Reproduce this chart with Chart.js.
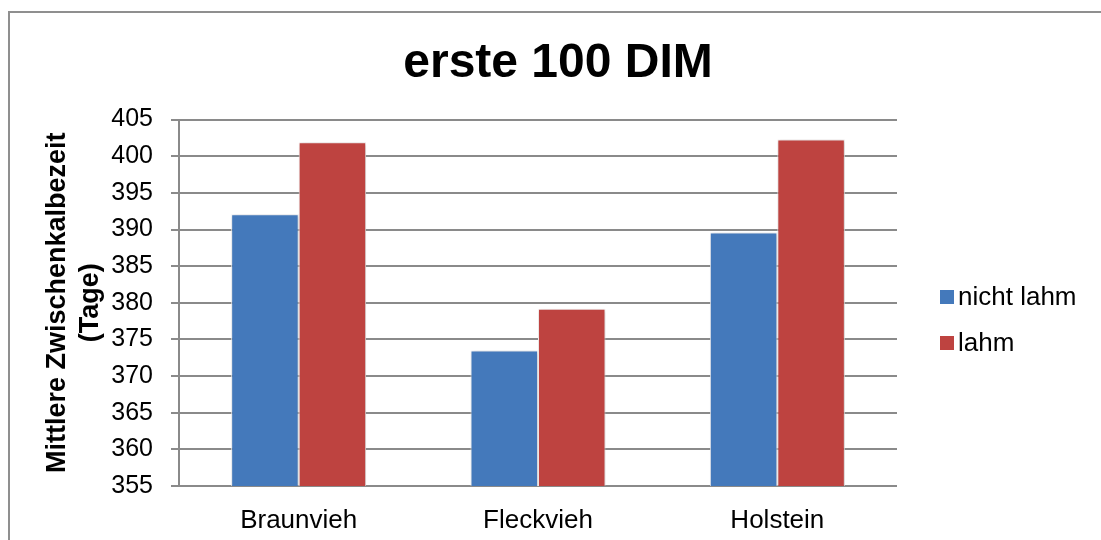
<!DOCTYPE html>
<html>
<head>
<meta charset="utf-8">
<script src="https://cdn.jsdelivr.net/npm/chart.js@4"></script>
<style>
  html, body { margin: 0; padding: 0; background: #ffffff; }
  #wrap { width: 1101px; height: 540px; }
</style>
</head>
<body>
<div id="wrap"><canvas id="c" width="1101" height="540"></canvas></div>
<script>
// Mittlere Zwischenkalbezeit (Tage) je Rasse, erste 100 DIM
const categories = ['Braunvieh', 'Fleckvieh', 'Holstein'];
const seriesNames = ['nicht lahm', 'lahm'];
const nichtLahm = [392.1, 373.5, 389.6];
const lahm = [401.9, 379.2, 402.3];
const yTicks = [355, 360, 365, 370, 375, 380, 385, 390, 395, 400, 405];

const FONT = "'Liberation Sans', Arial, sans-serif";
const GRID = '#8a8a8a';

// Rahmen links und oben um die Grafik
const framePlugin = {
  id: 'frame',
  beforeDraw(chart) {
    const ctx = chart.ctx;
    ctx.save();
    ctx.strokeStyle = '#8f8f8f';
    ctx.lineWidth = 2;
    ctx.beginPath();
    ctx.moveTo(9, chart.height);
    ctx.lineTo(9, 12);
    ctx.lineTo(chart.width, 12);
    ctx.stroke();
    ctx.restore();
  }
};

// leichter Schatten hinter den Balken
const shadowPlugin = {
  id: 'barShadow',
  beforeDatasetsDraw(chart) {
    const ctx = chart.ctx;
    ctx.save();
    ctx.shadowColor = 'rgba(0,0,0,0.22)';
    ctx.shadowBlur = 4;
    ctx.shadowOffsetX = 1;
    ctx.shadowOffsetY = 1;
  },
  afterDatasetsDraw(chart) {
    chart.ctx.restore();
  }
};

// Legende im freien Bereich rechts neben dem Diagramm
const sideLegend = {
  id: 'sideLegend',
  afterDraw(chart) {
    const ctx = chart.ctx;
    const area = chart.chartArea;
    const x = area.right + 43;
    const y0 = 297;
    const step = 46;
    ctx.save();
    ctx.font = '26px ' + FONT;
    ctx.textBaseline = 'middle';
    ctx.textAlign = 'left';
    chart.data.datasets.forEach((ds, i) => {
      const y = y0 + i * step;
      ctx.fillStyle = ds.backgroundColor;
      ctx.fillRect(x, y - 7, 14, 14);
      ctx.fillStyle = '#000000';
      ctx.fillText(ds.label, x + 18, y + 1);
    });
    ctx.restore();
  }
};

new Chart(document.getElementById('c'), {
  type: 'bar',
  data: {
    labels: categories,
    datasets: [
      {
        label: seriesNames[0],
        data: nichtLahm,
        backgroundColor: '#4479bb',
        borderColor: '#f4f6fa',
        borderWidth: 1
      },
      {
        label: seriesNames[1],
        data: lahm,
        backgroundColor: '#be4340',
        borderColor: '#faf3f3',
        borderWidth: 1
      }
    ]
  },
  options: {
    responsive: false,
    animation: false,
    devicePixelRatio: 1,
    layout: { padding: { left: 30, top: 20, right: 15, bottom: 4 } },
    datasets: {
      bar: { categoryPercentage: 0.564, barPercentage: 1.0 }
    },
    plugins: {
      legend: { display: false },
      tooltip: { enabled: false },
      title: {
        display: true,
        text: 'erste 100 DIM',
        color: '#000000',
        font: { family: FONT, size: 48, weight: 'bold', lineHeight: 1.2 },
        padding: { top: 15, bottom: 27 }
      }
    },
    scales: {
      x: {
        grid: { display: false, drawTicks: false },
        border: { display: false },
        afterFit(scale) { scale.height = 50; },
        ticks: {
          color: '#000000',
          padding: 19,
          font: { family: FONT, size: 26 }
        }
      },
      y: {
        min: 355,
        max: 405,
        afterBuildTicks(scale) {
          scale.ticks = yTicks.map(v => ({ value: v }));
        },
        afterFit(scale) { scale.width = 149; },
        grid: {
          color: GRID,
          lineWidth: 2,
          drawTicks: true,
          tickLength: 8,
          tickColor: GRID
        },
        border: { display: true, color: GRID, width: 2 },
        ticks: {
          color: '#000000',
          padding: 18,
          font: { family: FONT, size: 25 }
        },
        title: {
          display: true,
          text: ['Mittlere Zwischenkalbezeit', '(Tage)'],
          color: '#000000',
          font: { family: FONT, size: 27, weight: 'bold', lineHeight: 1.22 },
          padding: { top: 11, bottom: 0 }
        }
      },
      // Freiraum rechts für die Legende
      legendSpace: {
        type: 'linear',
        position: 'right',
        display: true,
        afterFit(scale) { scale.width = 189; },
        grid: { display: false, drawTicks: false },
        border: { display: false },
        ticks: { display: false }
      }
    }
  },
  plugins: [framePlugin, shadowPlugin, sideLegend]
});
</script>
</body>
</html>
